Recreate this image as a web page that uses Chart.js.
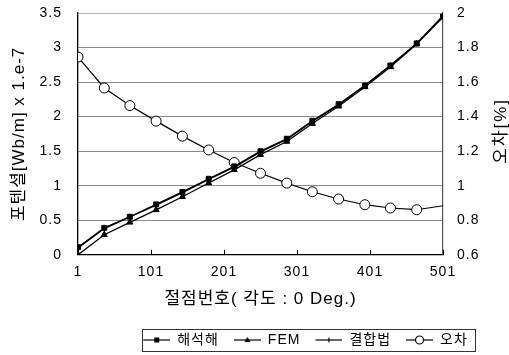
<!DOCTYPE html>
<html>
<head>
<meta charset="utf-8">
<script src="https://cdn.jsdelivr.net/npm/chart.js@4"></script>
<style>
  html, body { margin: 0; padding: 0; background: #fff; }
  #wrap { width: 509px; height: 355px; }
</style>
</head>
<body>
<div id="wrap"><canvas id="chart" width="509" height="355"></canvas></div>
<script>
// node numbers along the boundary (x) and the four series
const nodes = [1, 37, 72, 108, 144, 180, 215, 251, 287, 322, 358, 394, 429, 465, 501];
const analytic = [0.11, 0.39, 0.55, 0.73, 0.91, 1.10, 1.28, 1.50, 1.68, 1.94, 2.18, 2.45, 2.74, 3.06, 3.45];
const fem = [0.00, 0.29, 0.47, 0.65, 0.84, 1.04, 1.23, 1.45, 1.64, 1.90, 2.15, 2.43, 2.72, 3.05, 3.44];
const coupled = [0.10, 0.38, 0.55, 0.72, 0.90, 1.09, 1.27, 1.49, 1.67, 1.93, 2.17, 2.45, 2.74, 3.06, 3.46];
const errorPct = [1.745, 1.566, 1.464, 1.374, 1.287, 1.207, 1.134, 1.072, 1.015, 0.965, 0.923, 0.890, 0.871, 0.861, 0.884];

const seriesNames = ['해석해', 'FEM', '결합법', '오차'];
const xTicks = [1, 101, 201, 301, 401, 501];
const leftTicks = [0, 0.5, 1, 1.5, 2, 2.5, 3, 3.5];
const rightTicks = [0.6, 0.8, 1, 1.2, 1.4, 1.6, 1.8, 2];

const FONT = "'Liberation Sans', 'Noto Sans CJK KR', sans-serif";
const LEGEND_SHIFT = 45;
const ICON_GAP = 12;

function toXY(values) {
    return nodes.map((x, i) => ({ x: x, y: values[i] }));
}

// little "line + marker" pictures for the legend (left margin gives the item gap)
function legendIcon(kind) {
    const c = document.createElement('canvas');
    c.width = ICON_GAP + 27;
    c.height = 12;
    const g = c.getContext('2d');
    g.strokeStyle = '#000';
    g.fillStyle = '#000';
    g.lineWidth = 1.2;
    g.beginPath();
    g.moveTo(ICON_GAP, 6);
    g.lineTo(c.width, 6);
    g.stroke();
    const cx = ICON_GAP + 13.5;
    if (kind === 'rect') {
        g.fillRect(cx - 2.5, 3.5, 5, 5);
    } else if (kind === 'triangle') {
        g.beginPath();
        g.moveTo(cx, 3);
        g.lineTo(cx + 3, 8);
        g.lineTo(cx - 3, 8);
        g.closePath();
        g.fill();
    } else if (kind === 'tick') {
        g.beginPath();
        g.moveTo(cx, 3.5);
        g.lineTo(cx, 8.5);
        g.stroke();
    } else if (kind === 'circle') {
        g.fillStyle = '#fff';
        g.beginPath();
        g.arc(cx, 6, 4, 0, Math.PI * 2);
        g.fill();
        g.stroke();
    }
    return c;
}
const legendIcons = [legendIcon('rect'), legendIcon('triangle'), legendIcon('tick'), legendIcon('circle')];

// wide letter spacing like the scanned figure, inside x ticks, legend frame, right axis title
const extras = {
    id: 'extras',
    beforeUpdate(chart) { if ('letterSpacing' in chart.ctx) chart.ctx.letterSpacing = '1px'; },
    beforeDraw(chart) { if ('letterSpacing' in chart.ctx) chart.ctx.letterSpacing = '1px'; },
    afterLayout(chart) {
        chart.legend.left += LEGEND_SHIFT;
        chart.legend.right += LEGEND_SHIFT;
    },
    afterDraw(chart) {
        const ctx = chart.ctx;
        const area = chart.chartArea;
        const xs = chart.scales.x;
        ctx.save();
        ctx.strokeStyle = '#000';
        ctx.lineWidth = 1;
        xTicks.forEach(v => {
            const px = Math.round(xs.getPixelForValue(v)) + 0.5;
            ctx.beginPath();
            ctx.moveTo(px, area.bottom);
            ctx.lineTo(px, area.bottom - 5);
            ctx.stroke();
        });

        const boxes = chart.legend.legendHitBoxes;
        if (boxes && boxes.length) {
            let left = Infinity, right = -Infinity;
            boxes.forEach(b => {
                left = Math.min(left, b.left);
                right = Math.max(right, b.left + b.width);
            });
            const top = boxes[0].top;
            const h = boxes[0].height;
            const bx = Math.round(left + ICON_GAP - 1) + 0.5;
            ctx.strokeStyle = '#333';
            ctx.strokeRect(bx, Math.round(top - 4) + 0.5, Math.round(right + 8 - bx), Math.round(h + 8));
        }

        ctx.fillStyle = '#000';
        ctx.font = '17px ' + FONT;
        if ('letterSpacing' in ctx) ctx.letterSpacing = '2px';
        ctx.textAlign = 'center';
        ctx.textBaseline = 'middle';
        ctx.translate(501, (area.top + area.bottom) / 2 - 3);
        ctx.rotate(-Math.PI / 2);
        ctx.fillText('오차[%]', 0, 0);
        ctx.restore();
    }
};

const lineBase = {
    borderColor: '#000',
    backgroundColor: '#000',
    borderWidth: 1.3,
    tension: 0,
    pointBorderColor: '#000',
    pointBorderWidth: 1
};

const datasets = [
    Object.assign({}, lineBase, { label: seriesNames[0], data: toXY(analytic), pointStyle: 'rect', pointRadius: 3.5, yAxisID: 'y' }),
    Object.assign({}, lineBase, { label: seriesNames[1], data: toXY(fem), pointStyle: 'triangle', pointRadius: 3.5, yAxisID: 'y' }),
    Object.assign({}, lineBase, { label: seriesNames[2], data: toXY(coupled), pointStyle: 'line', rotation: 90, pointRadius: 3, yAxisID: 'y' }),
    Object.assign({}, lineBase, {
        label: seriesNames[3], data: toXY(errorPct), pointStyle: 'circle', pointBackgroundColor: '#fff',
        pointRadius: nodes.map((n, i) => i === nodes.length - 1 ? 0 : 5), borderWidth: 1.2, yAxisID: 'y1'
    })
];

const config = {
    type: 'line',
    data: { datasets: datasets },
    plugins: [extras],
    options: {
        responsive: false,
        animation: false,
        layout: { padding: { top: 13, left: 0, right: 0, bottom: -2 } },
        plugins: {
            tooltip: { enabled: false },
            legend: {
                position: 'bottom',
                labels: {
                    color: '#000',
                    font: { family: FONT, size: 14 },
                    usePointStyle: true,
                    pointStyleWidth: ICON_GAP + 27,
                    boxHeight: 12,
                    padding: 3,
                    generateLabels(chart) {
                        const items = Chart.defaults.plugins.legend.labels.generateLabels(chart);
                        items.forEach((it, i) => { it.pointStyle = legendIcons[i]; it.rotation = 0; });
                        return items;
                    }
                }
            }
        },
        scales: {
            x: {
                type: 'linear', min: 1, max: 501,
                afterBuildTicks: s => { s.ticks = xTicks.map(v => ({ value: v })); },
                grid: { display: false, drawTicks: false },
                border: { display: true, color: '#000', width: 1.3 },
                ticks: { color: '#000', font: { family: FONT, size: 14 }, padding: 9, maxRotation: 0 },
                title: {
                    display: true, text: '절점번호( 각도 : 0 Deg.)', color: '#000',
                    font: { family: FONT, size: 17 }, padding: { top: 0, bottom: 20 }
                }
            },
            y: {
                position: 'left', min: 0, max: 3.5,
                afterBuildTicks: s => { s.ticks = leftTicks.map(v => ({ value: v })); },
                afterFit: s => { s.width = 78; },
                grid: {
                    color: c => c.tick && c.tick.value === 3.5 ? '#b5b5b5' : '#8a8a8a',
                    lineWidth: 1,
                    drawTicks: true,
                    tickLength: 16,
                    tickColor: 'rgba(0,0,0,0)'
                },
                border: { display: true, color: '#000', width: 1.3 },
                ticks: { color: '#000', font: { family: FONT, size: 14 }, padding: 0, callback: v => String(v) },
                title: {
                    display: true, text: '포텐셜[Wb/m] x 1.e-7', color: '#000',
                    font: { family: FONT, size: 17 }, padding: { top: 9, bottom: 0 }
                }
            },
            y1: {
                position: 'right', min: 0.6, max: 2,
                afterBuildTicks: s => { s.ticks = rightTicks.map(v => ({ value: v })); },
                afterFit: s => { s.width = 66; },
                grid: { drawOnChartArea: false, drawTicks: true, tickLength: 14, tickColor: 'rgba(0,0,0,0)' },
                border: { display: true, color: '#555', width: 1.2, dash: [2, 1] },
                ticks: { color: '#000', font: { family: FONT, size: 14 }, padding: 0, callback: v => String(v) }
            }
        }
    }
};

const ctx = document.getElementById('chart').getContext('2d');
const myChart = new Chart(ctx, config);
</script>
</body>
</html>
